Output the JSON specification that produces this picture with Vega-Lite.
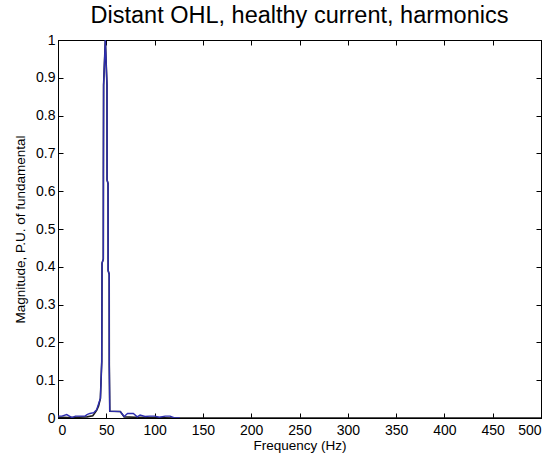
{
  "$schema": "https://vega.github.io/schema/vega-lite/v6.json",
  "autosize": "none",
  "width": 483,
  "height": 378,
  "padding": {"left": 58, "top": 40, "right": 16, "bottom": 44},
  "background": "white",
  "title": {"text": "Distant OHL, healthy current, harmonics", "font": "Liberation Sans", "fontSize": 23.5, "fontWeight": "normal", "color": "black", "offset": 6},
  "config": {
    "view": {"stroke": "black", "strokeWidth": 1},
    "axis": {"grid": false, "domainColor": "black", "tickColor": "black", "tickSize": -5, "labelColor": "black", "labelFont": "Liberation Sans", "labelFontSize": 14, "titleFont": "Liberation Sans", "titleFontSize": 13.5, "titleFontWeight": "normal", "titleColor": "black", "labelPadding": 8}
  },
  "datasets": {
    "black": [
      {"f": 0, "m": 0.001}, {"f": 5, "m": 0.002}, {"f": 10, "m": 0.001}, {"f": 20, "m": 0.002}, {"f": 30, "m": 0.003}, {"f": 36, "m": 0.006},
      {"f": 40, "m": 0.02}, {"f": 42, "m": 0.032}, {"f": 43.9, "m": 0.052}, {"f": 45.3, "m": 0.15}, {"f": 45.6, "m": 0.41}, {"f": 46.9, "m": 0.42},
      {"f": 47.0, "m": 0.64}, {"f": 47.2, "m": 0.88}, {"f": 49, "m": 1.0}, {"f": 50.7, "m": 0.88}, {"f": 50.8, "m": 0.63}, {"f": 51.8, "m": 0.62},
      {"f": 51.9, "m": 0.39}, {"f": 53.0, "m": 0.38}, {"f": 53.1, "m": 0.14}, {"f": 53.6, "m": 0.018}, {"f": 64.5, "m": 0.017}, {"f": 68.5, "m": 0.003},
      {"f": 80, "m": 0.002}, {"f": 100, "m": 0.001}, {"f": 120, "m": 0.0}, {"f": 200, "m": 0.0}, {"f": 300, "m": 0.0}, {"f": 400, "m": 0.0}, {"f": 500, "m": 0.0}
    ],
    "blue": [
      {"f": 0, "m": 0.005}, {"f": 4, "m": 0.005}, {"f": 9, "m": 0.009}, {"f": 14.5, "m": 0.001}, {"f": 18, "m": 0.005}, {"f": 28, "m": 0.005},
      {"f": 30, "m": 0.009}, {"f": 33, "m": 0.012}, {"f": 37, "m": 0.014}, {"f": 40, "m": 0.022}, {"f": 43.9, "m": 0.052}, {"f": 45.3, "m": 0.15},
      {"f": 45.6, "m": 0.41}, {"f": 46.9, "m": 0.42}, {"f": 47.0, "m": 0.64}, {"f": 47.2, "m": 0.88}, {"f": 49, "m": 1.0}, {"f": 50.7, "m": 0.88},
      {"f": 50.8, "m": 0.63}, {"f": 51.8, "m": 0.62}, {"f": 51.9, "m": 0.39}, {"f": 53.0, "m": 0.38}, {"f": 53.1, "m": 0.14}, {"f": 53.6, "m": 0.018},
      {"f": 64.5, "m": 0.017}, {"f": 68.5, "m": 0.004}, {"f": 72, "m": 0.012}, {"f": 78, "m": 0.012}, {"f": 82, "m": 0.003}, {"f": 85, "m": 0.008},
      {"f": 90, "m": 0.004}, {"f": 95, "m": 0.005}, {"f": 100, "m": 0.005}, {"f": 105, "m": 0.002}, {"f": 111, "m": 0.005}, {"f": 116, "m": 0.005},
      {"f": 120, "m": 0.001}, {"f": 126, "m": 0.0}
    ]
  },
  "layer": [
    {
      "data": {"name": "black"},
      "mark": {"type": "line", "color": "#1a1a1a", "strokeWidth": 1.6, "clip": true},
      "encoding": {
        "x": {"field": "f", "type": "quantitative", "scale": {"domain": [0, 500], "nice": false}, "axis": {"orient": "top", "labels": false, "title": null, "values": [0, 50, 100, 150, 200, 250, 300, 350, 400, 450, 500]}},
        "y": {"field": "m", "type": "quantitative", "scale": {"domain": [0, 1], "nice": false}, "axis": {"orient": "right", "labels": false, "title": null, "values": [0, 0.1, 0.2, 0.3, 0.4, 0.5, 0.6, 0.7, 0.8, 0.9, 1]}}
      }
    },
    {
      "data": {"name": "blue"},
      "mark": {"type": "line", "color": "#2e2eb0", "strokeWidth": 1.4, "clip": true},
      "encoding": {
        "x": {"field": "f", "type": "quantitative", "scale": {"domain": [0, 500], "nice": false}, "axis": {"orient": "bottom", "title": "Frequency (Hz)", "titlePadding": 1, "labelPadding": 10, "values": [0, 50, 100, 150, 200, 250, 300, 350, 400, 450, 500]}},
        "y": {"field": "m", "type": "quantitative", "scale": {"domain": [0, 1], "nice": false}, "axis": {"orient": "left", "title": "Magnitude, P.U. of fundamental", "titlePadding": 8, "format": "~g", "values": [0, 0.1, 0.2, 0.3, 0.4, 0.5, 0.6, 0.7, 0.8, 0.9, 1]}}
      }
    }
  ],
  "resolve": {"axis": {"x": "independent", "y": "independent"}}
}
